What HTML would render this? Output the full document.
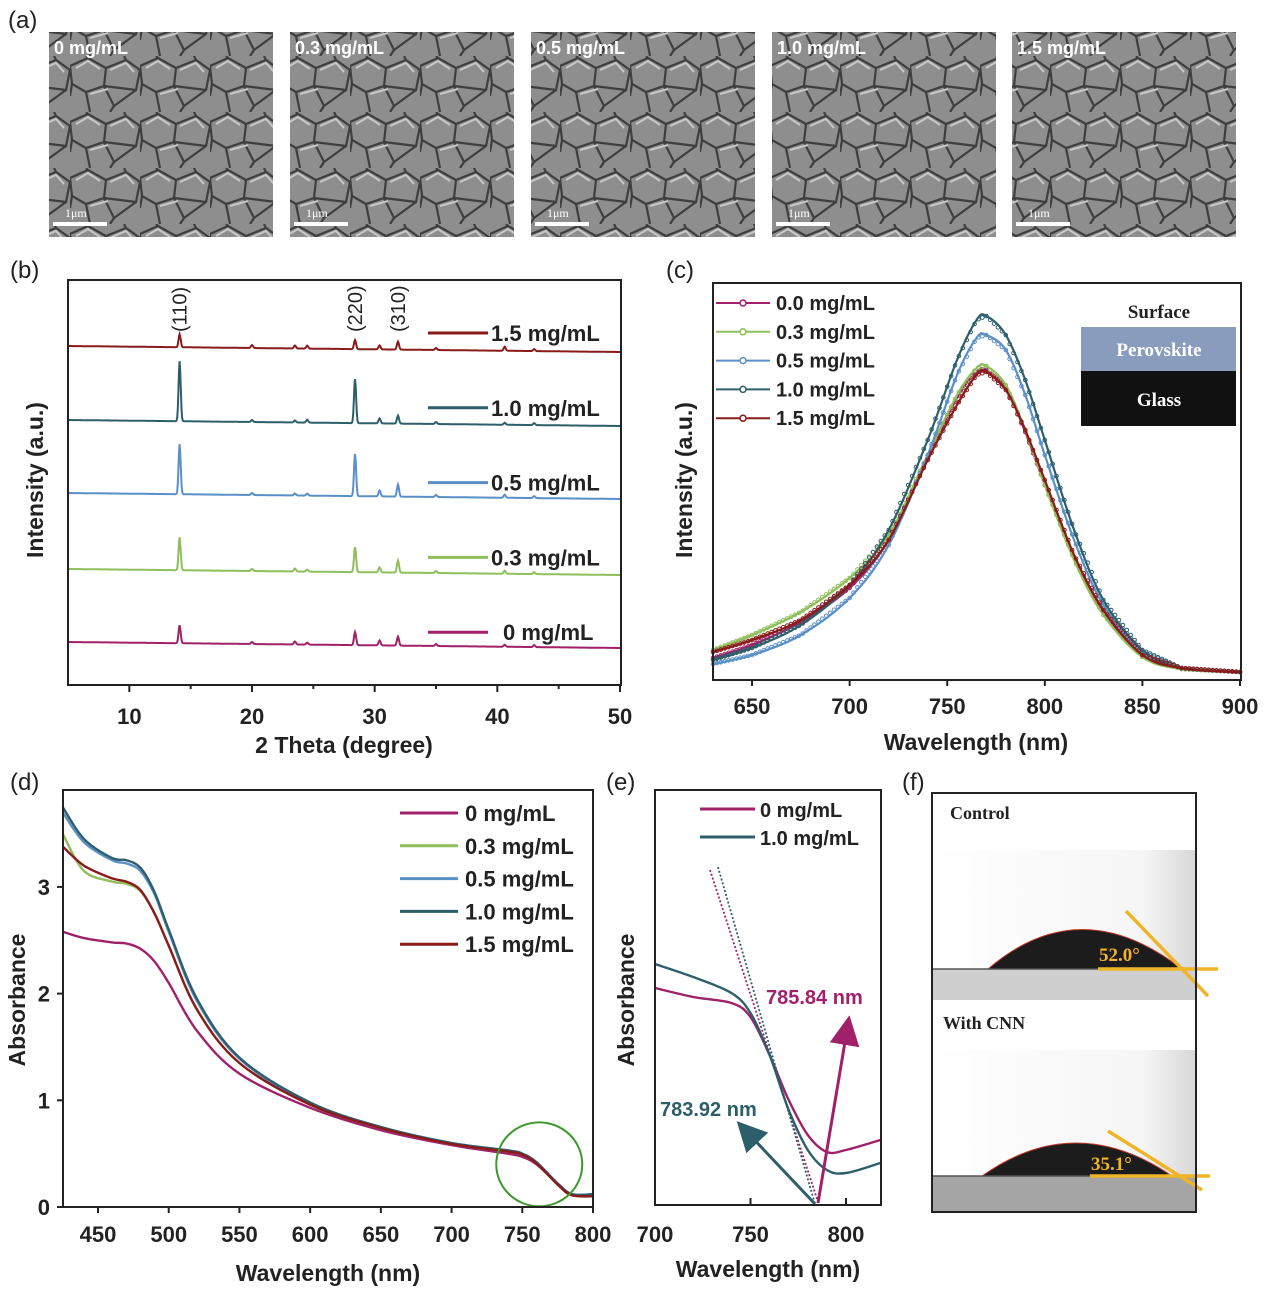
<!DOCTYPE html>
<html><head><meta charset="utf-8"><style>
body{margin:0;background:#fff}
svg{display:block;font-family:"Liberation Sans",sans-serif}
.tk{font-size:22px;font-weight:bold;fill:#222}
.lab{font-size:23px;font-weight:bold;fill:#222}
.leg{font-size:20px;font-weight:bold;fill:#222}
.pl{font-size:24px;fill:#222}
</style></head><body>
<svg id="fig" width="1268" height="1293" viewBox="0 0 1268 1293" xmlns="http://www.w3.org/2000/svg">
<defs>
<pattern id="grain" width="70" height="56" patternUnits="userSpaceOnUse">
<rect width="70" height="56" fill="#8e8e8e"/>
<path d="M0 10 L18 2 L36 12 L34 30 L16 36 L2 28 Z M36 12 L56 4 L70 14 L66 34 L34 30 M16 36 L20 56 M34 30 L44 50 L66 34 M44 50 L40 56 M2 28 L0 40 M56 4 L54 0 M18 2 L16 0" fill="none" stroke="#3e3e3e" stroke-width="2.2"/>
<path d="M6 12 L18 5 L30 13 M40 14 L56 7 L64 16 M20 38 L38 33" fill="none" stroke="#c8c8c8" stroke-width="2"/>
</pattern>
<linearGradient id="sky" x1="0" y1="0" x2="1" y2="0"><stop offset="0" stop-color="#fff"/><stop offset="0.8" stop-color="#f6f6f6"/><stop offset="1" stop-color="#d8d8d8"/></linearGradient>
<marker id="amag" markerWidth="10" markerHeight="10" refX="5" refY="5" orient="auto"><path d="M0 0 L10 5 L0 10 Z" fill="#a0206a"/></marker>
<marker id="atea" markerWidth="10" markerHeight="10" refX="5" refY="5" orient="auto"><path d="M0 0 L10 5 L0 10 Z" fill="#2d5f6b"/></marker>
</defs>

<text x="8" y="28" class="pl">(a)</text>
<text x="10" y="278" class="pl">(b)</text>
<text x="666" y="278" class="pl">(c)</text>
<text x="10" y="790" class="pl">(d)</text>
<text x="606" y="790" class="pl">(e)</text>
<text x="902" y="790" class="pl">(f)</text>

<g id="sem"></g>
<g id="xrd"></g>
<g id="pl"></g>
<g id="abs"></g>
<g id="zoom"></g>

<g>
<rect x="932" y="793" width="264" height="419" fill="#fff"/>
<rect x="933" y="850" width="262" height="119" fill="url(#sky)"/>
<rect x="933" y="969" width="262" height="31" fill="#cfcfcf"/>
<path d="M988 969 Q1080 890 1182 969 Z" fill="#1c1c1c" stroke="#c0392b" stroke-width="1"/>
<line x1="933" y1="969" x2="1195" y2="969" stroke="#555" stroke-width="1.5"/>
<line x1="1098" y1="969" x2="1218" y2="969" stroke="#f0b429" stroke-width="3.5"/>
<line x1="1126" y1="911" x2="1208" y2="996" stroke="#f0b429" stroke-width="3.5"/>
<text x="1099" y="961" font-family="Liberation Serif" font-size="19" font-weight="bold" fill="#f0b429">52.0°</text>
<text x="950" y="819" font-family="Liberation Serif" font-size="18" font-weight="bold" fill="#222">Control</text>
<rect x="933" y="1050" width="262" height="126" fill="url(#sky)"/>
<rect x="933" y="1176" width="262" height="36" fill="#a5a5a5"/>
<path d="M982 1176 Q1075 1110 1172 1176 Z" fill="#1c1c1c" stroke="#c0392b" stroke-width="1"/>
<line x1="933" y1="1176" x2="1195" y2="1176" stroke="#555" stroke-width="1.5"/>
<line x1="1090" y1="1176" x2="1210" y2="1176" stroke="#f0b429" stroke-width="3.5"/>
<line x1="1108" y1="1131" x2="1202" y2="1190" stroke="#f0b429" stroke-width="3.5"/>
<text x="1091" y="1170" font-family="Liberation Serif" font-size="19" font-weight="bold" fill="#f0b429">35.1°</text>
<text x="943" y="1029" font-family="Liberation Serif" font-size="18" font-weight="bold" fill="#222">With CNN</text>
<rect x="932" y="793" width="264" height="419" fill="none" stroke="#222" stroke-width="2"/>
</g>
</svg>
<script>
const NS='http://www.w3.org/2000/svg';
function mk(parent,tag,attrs,name,text){const e=document.createElementNS(NS,tag);for(const k in attrs)e.setAttribute(k,attrs[k]);


if(text!==undefined)e.textContent=text;parent.appendChild(e);return e;}
function pathD(xs,ys,fx,fy){return xs.map((x,i)=>(i?'L':'M')+fx(x).toFixed(1)+' '+fy(ys[i]).toFixed(1)).join(' ');}
function smoothD(xs,ys,fx,fy){const p=xs.map((x,i)=>[fx(x),fy(ys[i])]);let d='M'+p[0][0].toFixed(1)+' '+p[0][1].toFixed(1);
for(let i=0;i<p.length-1;i++){const p0=p[i-1]||p[i],p1=p[i],p2=p[i+1],p3=p[i+2]||p2;
const c1=[p1[0]+(p2[0]-p0[0])/6,p1[1]+(p2[1]-p0[1])/6],c2=[p2[0]-(p3[0]-p1[0])/6,p2[1]-(p3[1]-p1[1])/6];
d+=` C${c1[0].toFixed(1)} ${c1[1].toFixed(1)} ${c2[0].toFixed(1)} ${c2[1].toFixed(1)} ${p2[0].toFixed(1)} ${p2[1].toFixed(1)}`;}return d;}

/* ---- (a) SEM ---- */
const semLabels=['0 mg/mL','0.3 mg/mL','0.5 mg/mL','1.0 mg/mL','1.5 mg/mL'];
const semX=[49,290,531,772,1012];
const sem=document.getElementById('sem');
semLabels.forEach((l,i)=>{const x=semX[i];
mk(sem,'rect',{x:x,y:32,width:224,height:205,fill:'url(#grain)'},'sem-image-'+i);
mk(sem,'text',{x:x+5,y:54,'font-size':18,'font-weight':'bold',fill:'#fff'},'sem-label-'+i,l);
mk(sem,'line',{x1:x+4,y1:224,x2:x+58,y2:224,stroke:'#fff','stroke-width':4},'scale-bar-'+i);
mk(sem,'text',{x:x+16,y:217,'font-size':12,'font-family':'Liberation Serif',fill:'#fff'},'scale-label-'+i,'1μm');});

/* ---- (b) XRD ---- */
const xrdSeries=['1.5 mg/mL','1.0 mg/mL','0.5 mg/mL','0.3 mg/mL','0  mg/mL'];
const xrdColors=['#8b1a1a','#2d5f6b','#5b8fc8','#8fbf5a','#a0206a'];
const xrdOffsets=[333,259,186,110,37];
const peakPos=[14.1,20,23.5,24.5,28.4,30.4,31.9,35,40.6,43];
const peaks15=[13,3,3,3,9,4,8,2,4,2];
const peaks10=[60,2,2,3,44,5,8,2,2,2];
const peaks05=[50,2,2,2,42,6,12,2,3,2];
const peaks03=[33,2,3,2,25,5,12,2,3,2];
const peaks00=[18,2,3,2,13,5,9,2,2,2];
const xrdPeaks=[peaks15,peaks10,peaks05,peaks03,peaks00];
const xrdTicks=[10,20,30,40,50];
(function(){const g=document.getElementById('xrd');
const X=v=>68+(v-5)*552/45, Y=v=>685-v;
xrdSeries.forEach((s,i)=>{const xs=[],ys=[];for(let t=5;t<=50.001;t+=0.05){let y=xrdOffsets[i]+6*(50-t)/45;
peakPos.forEach((p,j)=>{y+=xrdPeaks[i][j]*Math.exp(-Math.pow((t-p)/0.12,2));});xs.push(t);ys.push(y);}
mk(g,'path',{d:pathD(xs,ys,X,Y),fill:'none',stroke:xrdColors[i],'stroke-width':2},'xrd-line-'+i);
const ly=333+i*74.8;
mk(g,'line',{x1:428,y1:ly,x2:488,y2:ly,stroke:xrdColors[i],'stroke-width':3},'xrd-legend-line-'+i);
mk(g,'text',{x:i==4?503:491,y:ly+8,class:'leg',style:'font-size:22px'},'xrd-legend-label-'+i,s);});
mk(g,'rect',{x:68,y:280,width:553,height:405,fill:'none',stroke:'#222','stroke-width':2},'xrd-frame');
xrdTicks.forEach(t=>{mk(g,'line',{x1:X(t),y1:685,x2:X(t),y2:692,stroke:'#222','stroke-width':2},'xrd-tick');
mk(g,'text',{x:X(t),y:724,class:'tk','text-anchor':'middle'},'xrd-tick-label',t);});
[15,25,35,45].forEach(t=>mk(g,'line',{x1:X(t),y1:685,x2:X(t),y2:689,stroke:'#222','stroke-width':2},'xrd-minor-tick'));
[['(110)',14.1],['(220)',28.4],['(310)',31.9]].forEach(a=>mk(g,'text',{x:0,y:0,'font-size':20,fill:'#222',transform:`translate(${X(a[1])+7},332) rotate(-90)`},'peak-label',a[0]));
mk(g,'text',{x:344,y:753,class:'lab','text-anchor':'middle'},'xrd-x-axis-title','2 Theta (degree)');
mk(g,'text',{x:0,y:0,class:'lab','text-anchor':'middle',transform:'translate(43,480) rotate(-90)'},'xrd-y-axis-title','Intensity (a.u.)');})();

/* ---- (c) PL ---- */
const plWl=[630,650,675,700,720,740,755,765,770,780,790,800,815,830,850,870,900];
const pl00=[14,27,50,84,132,214,274,300,302,284,240,187,114,60,16,3,0];
const pl03=[22,37,60,94,137,217,277,304,306,287,242,187,112,57,15,3,0];
const pl05=[8,17,37,74,127,217,297,334,337,322,277,217,132,67,20,4,0];
const pl10=[12,24,47,87,142,232,312,352,356,337,292,232,142,72,22,4,0];
const pl15=[20,32,52,87,132,212,267,297,300,282,242,192,117,62,17,4,0];
const plSeries=['0.0 mg/mL','0.3 mg/mL','0.5 mg/mL','1.0 mg/mL','1.5 mg/mL'];
const plData=[pl00,pl03,pl05,pl10,pl15];
const plColors=['#a0206a','#8fbf5a','#5b8fc8','#2d5f6b','#8b1a1a'];
const plTicks=[650,700,750,800,850,900];
(function(){const g=document.getElementById('pl');
const X=v=>713+(v-630)*527/270, Y=v=>672-v;
plData.forEach((d,i)=>{mk(g,'path',{d:smoothD(plWl,d,X,Y),fill:'none',stroke:plColors[i],'stroke-width':2.2},'pl-line-'+i);
for(let w=630;w<=900;w+=2){let k=0;while(k<plWl.length-2&&plWl[k+1]<w)k++;const f=(w-plWl[k])/(plWl[k+1]-plWl[k]);const v=d[k]+f*(d[k+1]-d[k]);
mk(g,'circle',{cx:X(w),cy:Y(v),r:1.8,fill:'none',stroke:plColors[i],'stroke-width':1},'pl-marker');}
const ly=303+i*28.8;
mk(g,'line',{x1:716,y1:ly,x2:770,y2:ly,stroke:plColors[i],'stroke-width':2},'pl-legend-line-'+i);
mk(g,'circle',{cx:743,cy:ly,r:3,fill:'#fff',stroke:plColors[i],'stroke-width':1.5},'pl-legend-marker-'+i);
mk(g,'text',{x:776,y:ly+7,class:'leg'},'pl-legend-label-'+i,plSeries[i]);});
mk(g,'rect',{x:713,y:283,width:528,height:397,fill:'none',stroke:'#222','stroke-width':2},'pl-frame');
plTicks.forEach(t=>{mk(g,'line',{x1:X(t),y1:680,x2:X(t),y2:686,stroke:'#222','stroke-width':2},'pl-tick');
mk(g,'text',{x:X(t),y:714,class:'tk','text-anchor':'middle'},'pl-tick-label',t);});
mk(g,'text',{x:1159,y:318,'font-family':'Liberation Serif','font-size':19,'font-weight':'bold',fill:'#222','text-anchor':'middle'},'inset-surface','Surface');
mk(g,'rect',{x:1081,y:327,width:155,height:44,fill:'#8a9cbd'},'inset-perovskite-layer');
mk(g,'text',{x:1159,y:356,'font-family':'Liberation Serif','font-size':19,'font-weight':'bold',fill:'#fff','text-anchor':'middle'},'inset-perovskite-label','Perovskite');
mk(g,'rect',{x:1081,y:371,width:155,height:55,fill:'#111'},'inset-glass-layer');
mk(g,'text',{x:1159,y:406,'font-family':'Liberation Serif','font-size':19,'font-weight':'bold',fill:'#fff','text-anchor':'middle'},'inset-glass-label','Glass');
mk(g,'text',{x:976,y:750,class:'lab','text-anchor':'middle'},'pl-x-axis-title','Wavelength (nm)');
mk(g,'text',{x:0,y:0,class:'lab','text-anchor':'middle',transform:'translate(692,480) rotate(-90)'},'pl-y-axis-title','Intensity (a.u.)');})();

/* ---- (d) Absorbance ---- */
const absWl=[425,440,460,470,480,490,500,520,550,600,650,700,740,750,760,775,785,800];
const abs00=[2.58,2.52,2.48,2.47,2.42,2.3,2.1,1.65,1.25,0.93,0.72,0.58,0.5,0.47,0.4,0.22,0.12,0.1];
const abs03=[3.5,3.15,3.05,3.03,2.96,2.75,2.45,1.85,1.35,0.96,0.74,0.59,0.52,0.49,0.41,0.21,0.11,0.1];
const abs05=[3.7,3.42,3.25,3.22,3.15,2.93,2.58,1.93,1.39,0.97,0.75,0.6,0.53,0.5,0.42,0.22,0.12,0.12];
const abs10=[3.75,3.45,3.27,3.25,3.18,2.95,2.6,1.95,1.4,0.98,0.75,0.6,0.53,0.5,0.42,0.22,0.12,0.12];
const abs15=[3.38,3.2,3.08,3.05,2.97,2.75,2.45,1.85,1.35,0.96,0.74,0.59,0.52,0.49,0.41,0.21,0.11,0.1];
const absSeries=['0    mg/mL','0.3 mg/mL','0.5 mg/mL','1.0 mg/mL','1.5 mg/mL'];
const absData=[abs00,abs03,abs05,abs10,abs15];
const absColors=['#a0206a','#8fbf5a','#5b8fc8','#2d5f6b','#8b1a1a'];
const absXTicks=[450,500,550,600,650,700,750,800];
const absYTicks=[0,1,2,3];
(function(){const g=document.getElementById('abs');
const X=v=>98+(v-450)*495/350, Y=v=>1207-v*106.7;
absData.forEach((d,i)=>{mk(g,'path',{d:smoothD(absWl,d,X,Y),fill:'none',stroke:absColors[i],'stroke-width':2.4,'stroke-linejoin':'round'},'abs-line-'+i);
const ly=813+i*32.8;
mk(g,'line',{x1:400,y1:ly,x2:458,y2:ly,stroke:absColors[i],'stroke-width':3},'abs-legend-line-'+i);
mk(g,'text',{x:465,y:ly+8,class:'leg',style:'font-size:22px'},'abs-legend-label-'+i,absSeries[i]);});
mk(g,'ellipse',{cx:X(762),cy:Y(0.4),rx:43,ry:42,fill:'none',stroke:'#3a9a2a','stroke-width':2},'highlight-circle');
mk(g,'rect',{x:63,y:790,width:530,height:417,fill:'none',stroke:'#222','stroke-width':2},'abs-frame');
absXTicks.forEach(t=>{mk(g,'line',{x1:X(t),y1:1207,x2:X(t),y2:1213,stroke:'#222','stroke-width':2},'abs-x-tick');
mk(g,'text',{x:X(t),y:1242,class:'tk','text-anchor':'middle'},'abs-x-tick-label',t);});
absYTicks.forEach(t=>{mk(g,'line',{x1:57,y1:Y(t),x2:63,y2:Y(t),stroke:'#222','stroke-width':2},'abs-y-tick');
mk(g,'text',{x:50,y:Y(t)+8,class:'tk','text-anchor':'end'},'abs-y-tick-label',t);});
mk(g,'text',{x:328,y:1281,class:'lab','text-anchor':'middle'},'abs-x-axis-title','Wavelength (nm)');
mk(g,'text',{x:0,y:0,class:'lab','text-anchor':'middle',transform:'translate(25,1000) rotate(-90)'},'abs-y-axis-title','Absorbance');})();

/* ---- (e) zoom ---- */
const zWl=[700,720,740,750,760,770,780,790,800,818];
const z00=[2.17,2.08,2.02,1.88,1.5,1.05,0.7,0.53,0.55,0.65];
const z10=[2.41,2.28,2.12,1.92,1.5,0.95,0.55,0.35,0.32,0.42];
const zSeries=['0 mg/mL','1.0 mg/mL'];
const zData=[z00,z10];
const zColors=['#a0206a','#2d5f6b'];
const tangentWl=[[728.8,785.84],[733,783.92]];
const tangentAbs=[[3.35,0],[3.38,0]];
const zTicks=[700,750,800];
(function(){const g=document.getElementById('zoom');
const X=v=>655+(v-700)*1.91, Y=v=>1205-v*100;
zData.forEach((d,i)=>{mk(g,'path',{d:smoothD(zWl,d,X,Y),fill:'none',stroke:zColors[i],'stroke-width':2.4},'zoom-line-'+i);
mk(g,'path',{d:pathD(tangentWl[i],tangentAbs[i],X,Y),fill:'none',stroke:zColors[i],'stroke-width':1.8,'stroke-dasharray':'2 2'},'tangent-line-'+i);
const ly=809+i*28;
mk(g,'line',{x1:700,y1:ly,x2:755,y2:ly,stroke:zColors[i],'stroke-width':3},'zoom-legend-line-'+i);
mk(g,'text',{x:760,y:ly+8,class:'leg'},'zoom-legend-label-'+i,zSeries[i]);});
mk(g,'line',{x1:818,y1:1203,x2:847,y2:1030,stroke:'#a0206a','stroke-width':3,'marker-end':'url(#amag)'},'arrow-785');
mk(g,'line',{x1:815,y1:1204,x2:747,y2:1132,stroke:'#2d5f6b','stroke-width':3,'marker-end':'url(#atea)'},'arrow-783');
mk(g,'text',{x:766,y:1004,class:'leg',style:'fill:#a0206a'},'onset-label-0','785.84 nm');
mk(g,'text',{x:660,y:1116,class:'leg',style:'fill:#2d5f6b'},'onset-label-1','783.92 nm');
mk(g,'rect',{x:655,y:790,width:226,height:415,fill:'none',stroke:'#222','stroke-width':2},'zoom-frame');
zTicks.forEach(t=>{mk(g,'line',{x1:X(t),y1:1205,x2:X(t),y2:1198,stroke:'#222','stroke-width':2},'zoom-tick');
mk(g,'text',{x:X(t),y:1242,class:'tk','text-anchor':'middle'},'zoom-tick-label',t);});
mk(g,'text',{x:768,y:1277,class:'lab','text-anchor':'middle'},'zoom-x-axis-title','Wavelength (nm)');
mk(g,'text',{x:0,y:0,class:'lab','text-anchor':'middle',transform:'translate(634,1000) rotate(-90)'},'zoom-y-axis-title','Absorbance');})();
</script>
</body></html>
